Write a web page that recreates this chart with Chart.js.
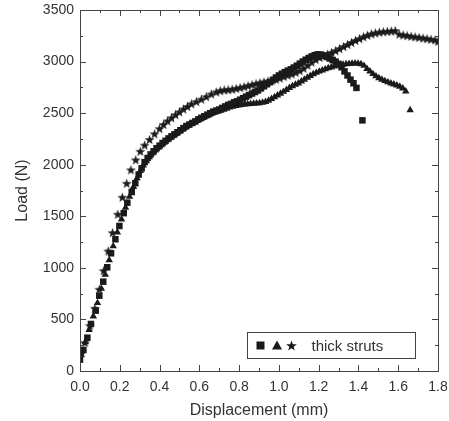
<!DOCTYPE html>
<html>
<head>
<meta charset="utf-8">
<script src="https://cdn.jsdelivr.net/npm/chart.js@4"></script>
<style>
  html, body { margin: 0; padding: 0; background: #fff; }
  #wrap { width: 449px; height: 421px; }
</style>
</head>
<body>
<div id="wrap"><canvas id="loadChart" width="449" height="421"></canvas></div>
<script>
// 軸の目盛り
const xMajorTicks = [0, 0.2, 0.4, 0.6, 0.8, 1.0, 1.2, 1.4, 1.6, 1.8];
const xMinorTicks = [0.1, 0.3, 0.5, 0.7, 0.9, 1.1, 1.3, 1.5, 1.7];
const yMajorTicks = [0, 500, 1000, 1500, 2000, 2500, 3000, 3500];
const yMinorTicks = [250, 750, 1250, 1750, 2250, 2750, 3250];

// squares
const sqX = [0.00, 0.017, 0.037, 0.055, 0.079, 0.097, 0.117, 0.137, 0.156, 0.178, 0.198, 0.22, 0.238, 0.26, 0.278,
  0.295, 0.31, 0.325, 0.34, 0.355, 0.37, 0.385, 0.40, 0.415, 0.43, 0.445, 0.46, 0.475, 0.49, 0.505, 0.52, 0.535,
  0.55, 0.565, 0.58, 0.595, 0.61, 0.625, 0.64, 0.655, 0.67, 0.685, 0.70, 0.715, 0.73, 0.745, 0.76, 0.775, 0.79,
  0.805, 0.82, 0.835, 0.85, 0.865, 0.88, 0.895, 0.91, 0.925, 0.94, 0.955, 0.97, 0.985, 1.00, 1.015, 1.03, 1.045,
  1.06, 1.075, 1.09, 1.105, 1.12, 1.135, 1.15, 1.165, 1.18, 1.195, 1.21, 1.225, 1.24, 1.255, 1.27, 1.285, 1.30,
  1.315, 1.33, 1.345, 1.36, 1.375, 1.39, 1.42];
const sqY = [110, 204, 323, 456, 585, 730, 866, 1006, 1141, 1277, 1406, 1530, 1632, 1735, 1820,
  1905, 1965, 2025, 2065, 2100, 2130, 2160, 2185, 2210, 2232, 2255, 2275, 2295, 2315, 2335, 2355, 2375,
  2390, 2405, 2420, 2440, 2455, 2470, 2485, 2500, 2515, 2525, 2535, 2550, 2565, 2580, 2590, 2605, 2615,
  2630, 2645, 2660, 2675, 2690, 2705, 2720, 2740, 2760, 2780, 2800, 2822, 2845, 2865, 2882, 2898, 2912,
  2925, 2942, 2960, 2980, 3000, 3018, 3035, 3050, 3062, 3070, 3068, 3060, 3045, 3030, 3015, 3000, 2978,
  2945, 2905, 2865, 2825, 2790, 2745, 2430];

// triangles
const triX = [0.005, 0.027, 0.046, 0.067, 0.088, 0.107, 0.127, 0.147, 0.167, 0.188, 0.209, 0.229, 0.249, 0.269,
  0.287, 0.303, 0.318, 0.333, 0.348, 0.363, 0.378, 0.393, 0.408, 0.423, 0.438, 0.453, 0.468, 0.483, 0.498, 0.513,
  0.528, 0.543, 0.558, 0.573, 0.588, 0.603, 0.618, 0.633, 0.648, 0.663, 0.678, 0.693, 0.708, 0.723, 0.738, 0.753,
  0.768, 0.783, 0.798, 0.813, 0.828, 0.843, 0.858, 0.873, 0.888, 0.903, 0.918, 0.933, 0.948, 0.963, 0.978, 0.993,
  1.008, 1.023, 1.038, 1.053, 1.068, 1.083, 1.098, 1.113, 1.128, 1.143, 1.158, 1.173, 1.188, 1.203, 1.218, 1.233,
  1.248, 1.263, 1.278, 1.293, 1.308, 1.323, 1.338, 1.353, 1.368, 1.383, 1.398, 1.413, 1.428, 1.443, 1.458, 1.473,
  1.488, 1.503, 1.518, 1.533, 1.548, 1.563, 1.578, 1.593, 1.608, 1.623, 1.638, 1.66];
const triY = [160, 280, 400, 530, 660, 800, 935, 1075, 1210, 1345, 1470, 1585, 1690, 1785,
  1870, 1940, 1995, 2035, 2075, 2110, 2140, 2165, 2190, 2215, 2238, 2260, 2280, 2300, 2320, 2340,
  2360, 2378, 2395, 2410, 2425, 2440, 2455, 2468, 2480, 2495, 2505, 2515, 2525, 2535, 2545, 2555,
  2563, 2570, 2575, 2580, 2585, 2588, 2590, 2592, 2595, 2598, 2602, 2610, 2622, 2638, 2655, 2672,
  2690, 2708, 2726, 2745, 2762, 2777, 2790, 2808, 2825, 2845, 2862, 2878, 2892, 2904, 2915, 2926,
  2936, 2945, 2953, 2960, 2966, 2971, 2975, 2978, 2981, 2983, 2982, 2976, 2960, 2930, 2905, 2880,
  2858, 2840, 2825, 2812, 2800, 2790, 2780, 2770, 2758, 2740, 2712, 2530];

// stars
const starX = [0.008, 0.025, 0.05, 0.075, 0.097, 0.119, 0.142, 0.164, 0.19, 0.213, 0.235, 0.256, 0.28, 0.303,
  0.325, 0.35, 0.375, 0.40, 0.42, 0.44, 0.46, 0.48, 0.50, 0.52, 0.54, 0.56, 0.585, 0.61, 0.635, 0.66, 0.685,
  0.705, 0.725, 0.745, 0.765, 0.785, 0.805, 0.825, 0.845, 0.865, 0.885, 0.905, 0.925, 0.945, 0.965, 0.985,
  1.005, 1.025, 1.045, 1.065, 1.085, 1.105, 1.125, 1.145, 1.165, 1.185, 1.205, 1.225, 1.245, 1.265, 1.285,
  1.305, 1.325, 1.345, 1.365, 1.385, 1.405, 1.425, 1.445, 1.465, 1.485, 1.505, 1.525, 1.545, 1.565, 1.585,
  1.605, 1.625, 1.645, 1.665, 1.685, 1.705, 1.725, 1.745, 1.765, 1.785, 1.80];
const starY = [175, 275, 440, 608, 792, 973, 1164, 1341, 1520, 1685, 1820, 1950, 2047, 2130,
  2190, 2245, 2300, 2350, 2390, 2425, 2455, 2485, 2512, 2540, 2565, 2590, 2612, 2635, 2660, 2685, 2705,
  2718, 2725, 2728, 2732, 2740, 2748, 2756, 2766, 2776, 2786, 2795, 2803, 2810, 2818, 2828,
  2840, 2855, 2868, 2880, 2895, 2912, 2935, 2965, 2995, 3020, 3040, 3058, 3072, 3088, 3105,
  3125, 3145, 3165, 3185, 3205, 3222, 3240, 3255, 3268, 3278, 3285, 3290, 3293, 3296, 3300,
  3265, 3258, 3252, 3246, 3240, 3234, 3228, 3222, 3216, 3210, 3195];

const legendText = 'thick struts';
const markColor = '#1a1a1a';
const axisColor = '#444';
const textColor = '#333';

function starPath(ctx, cx, cy, R, r) {
  ctx.beginPath();
  for (let i = 0; i < 10; i++) {
    const rad = i % 2 === 0 ? R : r;
    const a = -Math.PI / 2 + i * Math.PI / 5;
    const px = cx + rad * Math.cos(a), py = cy + rad * Math.sin(a);
    if (i === 0) ctx.moveTo(px, py); else ctx.lineTo(px, py);
  }
  ctx.closePath();
}

// 星マーカー（塗りつぶし）
const starImg = document.createElement('canvas');
starImg.width = 11; starImg.height = 11;
(function () {
  const c = starImg.getContext('2d');
  c.fillStyle = markColor;
  starPath(c, 5.5, 6, 5.2, 2.1);
  c.fill();
})();

const toPoints = (xs, ys) => xs.map((x, i) => ({ x: x, y: ys[i] }));

// 内向きの目盛りと枠
const innerTicks = {
  id: 'innerTicks',
  afterDraw(chart) {
    const { ctx, chartArea: a, scales } = chart;
    ctx.save();
    ctx.strokeStyle = axisColor;
    ctx.lineWidth = 1;
    ctx.beginPath();
    const drawX = (vals, len) => vals.forEach(v => {
      const px = Math.round(scales.x.getPixelForValue(v)) + 0.5;
      ctx.moveTo(px, a.bottom); ctx.lineTo(px, a.bottom - len);
      ctx.moveTo(px, a.top); ctx.lineTo(px, a.top + len);
    });
    const drawY = (vals, len) => vals.forEach(v => {
      const py = Math.round(scales.y.getPixelForValue(v)) + 0.5;
      ctx.moveTo(a.left, py); ctx.lineTo(a.left + len, py);
      ctx.moveTo(a.right, py); ctx.lineTo(a.right - len, py);
    });
    drawX(xMajorTicks, 6); drawX(xMinorTicks, 3);
    drawY(yMajorTicks, 6); drawY(yMinorTicks, 3);
    ctx.stroke();
    ctx.strokeRect(Math.round(a.left) + 0.5, Math.round(a.top) + 0.5,
      Math.round(a.right - a.left), Math.round(a.bottom - a.top));
    ctx.restore();
  }
};

// 凡例ボックス
const strutLegend = {
  id: 'strutLegend',
  afterDraw(chart) {
    const { ctx, chartArea: a } = chart;
    const left = Math.round(a.right - 191) + 0.5, top = Math.round(a.bottom - 39) + 0.5, w = 168, h = 26;
    const cy = top + h / 2;
    ctx.save();
    ctx.fillStyle = '#fff';
    ctx.fillRect(left, top, w, h);
    ctx.strokeStyle = axisColor;
    ctx.lineWidth = 1;
    ctx.strokeRect(left, top, w, h);
    ctx.fillStyle = markColor;
    ctx.fillRect(left + 9, cy - 4, 8, 8);
    ctx.beginPath();
    ctx.moveTo(left + 29.5, cy - 5);
    ctx.lineTo(left + 34.5, cy + 4);
    ctx.lineTo(left + 24.5, cy + 4);
    ctx.closePath();
    ctx.fill();
    starPath(ctx, left + 44, cy + 0.5, 5.6, 2.3);
    ctx.fill();
    ctx.fillStyle = textColor;
    ctx.font = '15px "Liberation Sans", Arial, sans-serif';
    ctx.textBaseline = 'middle';
    ctx.fillText(legendText, left + 64, cy + 1);
    ctx.restore();
  }
};

const fontFamily = '"Liberation Sans", Arial, Helvetica, sans-serif';

new Chart(document.getElementById('loadChart').getContext('2d'), {
  type: 'scatter',
  data: {
    datasets: [
      {
        label: 'squares',
        data: toPoints(sqX, sqY),
        pointStyle: 'rect',
        pointRadius: 4.6,
        backgroundColor: markColor,
        borderColor: markColor,
        borderWidth: 0
      },
      {
        label: 'triangles',
        data: toPoints(triX, triY),
        pointStyle: 'triangle',
        pointRadius: 4.3,
        backgroundColor: markColor,
        borderColor: markColor,
        borderWidth: 0
      },
      {
        label: 'stars',
        data: toPoints(starX, starY),
        pointStyle: starImg,
        pointRadius: 5,
        backgroundColor: markColor,
        borderWidth: 0
      }
    ]
  },
  options: {
    responsive: false,
    animation: false,
    events: [],
    layout: { padding: { top: 10, right: 11, left: 0, bottom: 0 } },
    plugins: {
      legend: { display: false },
      tooltip: { enabled: false }
    },
    scales: {
      x: {
        type: 'linear',
        min: 0,
        max: 1.8,
        afterBuildTicks: s => { s.ticks = xMajorTicks.map(v => ({ value: v })); },
        afterFit: s => { s.height = 50; s.paddingLeft = 0; s.paddingRight = 0; },
        grid: { display: false, drawTicks: false },
        border: { display: false },
        ticks: {
          color: textColor,
          padding: 8,
          font: { family: fontFamily, size: 14 },
          callback: v => v.toFixed(1)
        },
        title: {
          display: true,
          text: 'Displacement (mm)',
          color: textColor,
          font: { family: fontFamily, size: 16 },
          padding: { top: 0, bottom: 1 }
        }
      },
      y: {
        type: 'linear',
        min: 0,
        max: 3500,
        afterBuildTicks: s => { s.ticks = yMajorTicks.map(v => ({ value: v })); },
        afterFit: s => { s.width = 80; s.paddingTop = 0; s.paddingBottom = 0; },
        grid: { display: false, drawTicks: false },
        border: { display: false },
        ticks: {
          color: textColor,
          padding: 6,
          font: { family: fontFamily, size: 14 },
          callback: v => String(v)
        },
        title: {
          display: true,
          text: 'Load (N)',
          color: textColor,
          font: { family: fontFamily, size: 16 },
          padding: { top: 13, bottom: 0 }
        }
      }
    }
  },
  plugins: [innerTicks, strutLegend]
});
</script>
</body>
</html>
